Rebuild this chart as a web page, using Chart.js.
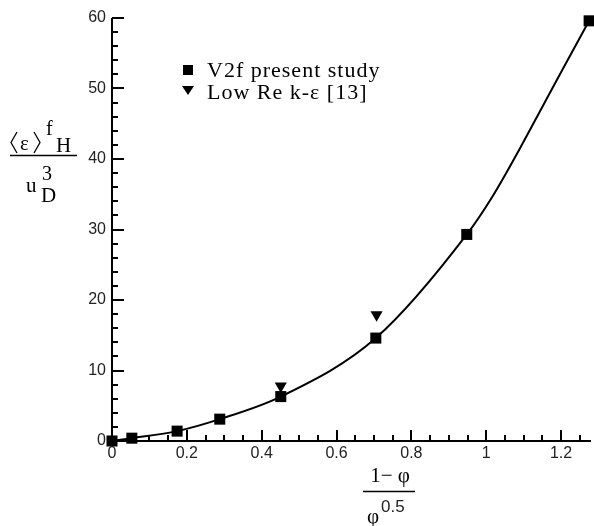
<!DOCTYPE html>
<html>
<head>
<meta charset="utf-8">
<script src="https://cdn.jsdelivr.net/npm/chart.js@4.4.1/dist/chart.umd.min.js"></script>
<style>
  html, body { margin: 0; padding: 0; background: #fff; }
  #wrap { width: 594px; height: 526px; position: relative; }
</style>
</head>
<body>
<div id="wrap"><canvas id="chart" width="594" height="526"></canvas></div>
<script>
// Valeurs
const v2fX = [0, 0.053, 0.174, 0.288, 0.451, 0.705, 0.948, 1.275];
const v2fY = [0, 0.4, 1.4, 3.1, 6.3, 14.6, 29.3, 59.6];
const lowReX = [0.451, 0.707];
const lowReY = [7.8, 17.9];
// courbe continue (passe par les carres, points intermediaires)
const curveX = [0, 0.053, 0.174, 0.288, 0.451, 0.705, 0.948, 1.018, 1.090, 1.152, 1.205, 1.275];
const curveY = [0, 0.4, 1.4, 3.1, 6.3, 14.6, 29.3, 34.8, 41.5, 47.6, 52.8, 59.6];
const xTicks = [0, 0.2, 0.4, 0.6, 0.8, 1, 1.2];
const yTicks = [0, 10, 20, 30, 40, 50, 60];
const xMinorStep = 0.05;
const yMinorStep = 2;
const legendLabels = ['V2f present study', 'Low Re k-\u03b5 [13]'];

const toPoints = (xs, ys) => xs.map((x, i) => ({ x: x, y: ys[i] }));

// Axes, graduations vers l'interieur et titres
const decorPlugin = {
    id: 'decor',
    beforeDatasetsDraw(chart) {
        const ctx = chart.ctx;
        const xs = chart.scales.x, ys = chart.scales.y;
        const a = chart.chartArea;
        ctx.save();
        ctx.strokeStyle = '#000';
        ctx.lineWidth = 2;
        ctx.beginPath();
        ctx.moveTo(a.left, a.top);
        ctx.lineTo(a.left, a.bottom);
        ctx.lineTo(a.right, a.bottom);
        ctx.stroke();
        ctx.beginPath();
        for (let v = 0; v <= xs.max + 1e-9; v += xMinorStep) {
            const px = Math.round(xs.getPixelForValue(v));
            const major = xTicks.some(t => Math.abs(t - v) < 1e-6);
            ctx.moveTo(px, a.bottom);
            ctx.lineTo(px, a.bottom - (major ? 11 : 6));
        }
        for (let v = 0; v <= ys.max + 1e-9; v += yMinorStep) {
            const py = Math.round(ys.getPixelForValue(v));
            const major = yTicks.includes(v);
            ctx.moveTo(a.left, py);
            ctx.lineTo(a.left + (major ? 12 : 6), py);
        }
        ctx.stroke();
        ctx.restore();
    },
    afterDraw(chart) {
        const ctx = chart.ctx;
        ctx.save();
        ctx.fillStyle = '#000';
        ctx.strokeStyle = '#000';
        ctx.textBaseline = 'alphabetic';
        ctx.textAlign = 'left';

        // titre axe Y : <eps>^f H / u_D^3
        ctx.lineWidth = 1.3;
        ctx.beginPath();
        ctx.moveTo(17, 132); ctx.lineTo(11, 142.5); ctx.lineTo(17, 153);
        ctx.moveTo(34, 132); ctx.lineTo(40, 142.5); ctx.lineTo(34, 153);
        ctx.stroke();
        ctx.font = '21px "Liberation Serif"';
        ctx.fillText('\u03b5', 20, 150);
        ctx.font = '20px "Liberation Serif"';
        ctx.fillText('f', 46, 135);
        ctx.font = '21px "Liberation Serif"';
        ctx.fillText('H', 56, 152);
        ctx.lineWidth = 1.5;
        ctx.beginPath();
        ctx.moveTo(10, 155.5);
        ctx.lineTo(77, 155.5);
        ctx.stroke();
        ctx.fillText('u', 26, 192);
        ctx.font = '20px "Liberation Serif"';
        ctx.fillText('3', 42, 180);
        ctx.font = '21px "Liberation Serif"';
        ctx.fillText('D', 41, 202);

        // titre axe X : (1 - phi) / phi^0.5
        ctx.font = '21px "Liberation Serif"';
        ctx.textAlign = 'center';
        ctx.fillText('1\u2212 \u03c6', 390, 482);
        ctx.beginPath();
        ctx.moveTo(363, 491.5);
        ctx.lineTo(415, 491.5);
        ctx.stroke();
        ctx.textAlign = 'left';
        ctx.fillText('\u03c6', 367, 523);
        ctx.font = '17px "Liberation Sans"';
        ctx.fillStyle = '#222';
        ctx.fillText('0.5', 381, 512);

        // legende
        ctx.fillStyle = '#000';
        ctx.fillRect(183, 65, 10, 10);
        ctx.beginPath();
        ctx.moveTo(182, 86);
        ctx.lineTo(194, 86);
        ctx.lineTo(188, 95);
        ctx.closePath();
        ctx.fill();
        ctx.font = '22px "Liberation Serif"';
        ctx.letterSpacing = '1px';
        ctx.fillText(legendLabels[0], 207, 77);
        ctx.fillText(legendLabels[1], 207, 99);
        ctx.restore();
    }
};

new Chart(document.getElementById('chart'), {
    type: 'scatter',
    data: {
        datasets: [
            {
                label: 'curve',
                data: toPoints(curveX, curveY),
                showLine: true,
                cubicInterpolationMode: 'monotone',
                borderColor: '#000',
                borderWidth: 2,
                pointRadius: 0,
                clip: false
            },
            {
                label: legendLabels[0],
                data: toPoints(v2fX, v2fY),
                backgroundColor: '#000',
                borderColor: '#000',
                pointStyle: 'rect',
                pointRadius: 7.8,
                pointBorderWidth: 0,
                clip: false
            },
            {
                label: legendLabels[1],
                data: toPoints(lowReX, lowReY),
                backgroundColor: '#000',
                borderColor: '#000',
                pointStyle: 'triangle',
                pointRotation: 180,
                pointRadius: 7,
                pointBorderWidth: 0,
                clip: false
            }
        ]
    },
    options: {
        responsive: false,
        animation: false,
        layout: { autoPadding: false, padding: { top: 18, right: 3, left: 0, bottom: 0 } },
        plugins: { legend: { display: false }, tooltip: { enabled: false } },
        scales: {
            x: {
                type: 'linear',
                min: 0,
                max: 1.28,
                grid: { display: false, drawTicks: false },
                border: { display: false },
                afterBuildTicks: s => { s.ticks = xTicks.map(v => ({ value: v })); },
                afterFit: s => { s.height = 85; s.paddingLeft = 0; s.paddingRight = 0; },
                ticks: {
                    padding: 3,
                    color: '#222',
                    font: { family: 'Liberation Sans', size: 16 },
                    maxRotation: 0,
                    callback: v => String(v)
                }
            },
            y: {
                type: 'linear',
                min: 0,
                max: 60,
                grid: { display: false, drawTicks: false },
                border: { display: false },
                afterBuildTicks: s => { s.ticks = yTicks.map(v => ({ value: v })); },
                afterFit: s => { s.width = 112; s.paddingTop = 0; s.paddingBottom = 0; },
                ticks: {
                    padding: 6,
                    color: '#222',
                    font: { family: 'Liberation Sans', size: 16 },
                    callback: v => String(v)
                }
            }
        }
    },
    plugins: [decorPlugin]
});
</script>
</body>
</html>
